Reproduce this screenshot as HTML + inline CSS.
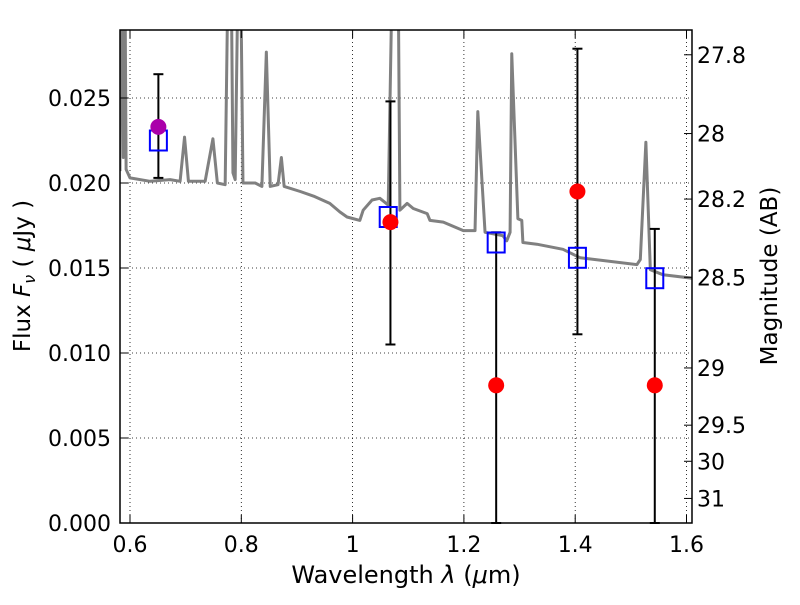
<!DOCTYPE html>
<html><head><meta charset="utf-8"><style>
body{margin:0;background:#fff;}
svg text{font-family:"DejaVu Sans","Liberation Sans",sans-serif;fill:#000;}
</style></head><body>
<svg id="chart" width="800" height="600" xmlns="http://www.w3.org/2000/svg">
<defs><clipPath id="clip"><rect x="120" y="30" width="572" height="493"/></clipPath></defs>
<rect x="0" y="0" width="800" height="600" fill="#fff"/>
<g id="grid"></g>
<g id="spec" clip-path="url(#clip)"></g>
<g id="marks"></g>
<rect x="120" y="30" width="572" height="493" fill="none" stroke="#000" stroke-width="1.5"/>
<g id="axes"></g>
<text x="406" y="583" font-size="24" text-anchor="middle">Wavelength  <tspan font-style="italic">λ</tspan> (<tspan font-style="italic">μ</tspan>m)</text>
<text transform="translate(30,276) rotate(-90)" font-size="23" text-anchor="middle">Flux  <tspan font-style="italic">F</tspan><tspan font-style="italic" font-size="16" dy="5">ν</tspan><tspan dy="-5">  ( </tspan><tspan font-style="italic">μ</tspan>Jy )</text>
<text transform="translate(777,276) rotate(-90)" font-size="23" text-anchor="middle">Magnitude (AB)</text>
</svg>
<script>
const specLam=[0.582,0.583,0.586,0.588,0.589,0.591,0.593,0.600,0.636,0.672,0.690,0.698,0.705,0.735,0.749,0.757,0.771,0.776,0.782,0.785,0.789,0.794,0.799,0.803,0.825,0.837,0.845,0.852,0.866,0.872,0.877,0.906,0.932,0.959,0.977,0.990,1.013,1.019,1.035,1.049,1.064,1.071,1.082,1.085,1.098,1.109,1.134,1.139,1.163,1.199,1.220,1.225,1.238,1.270,1.277,1.283,1.286,1.297,1.304,1.306,1.331,1.378,1.409,1.511,1.517,1.527,1.535,1.558,1.610];
const specFlux=[0.0207,0.032,0.032,0.0215,0.032,0.032,0.0208,0.0203,0.0201,0.0202,0.0201,0.0227,0.0201,0.0201,0.0226,0.0200,0.0199,0.032,0.032,0.0206,0.0202,0.032,0.032,0.0200,0.0200,0.0198,0.0277,0.0198,0.0199,0.0215,0.0198,0.0195,0.0192,0.0188,0.0183,0.0180,0.0178,0.0184,0.0190,0.0191,0.0187,0.032,0.032,0.0184,0.0188,0.0185,0.0182,0.0178,0.0177,0.0172,0.0172,0.0242,0.0171,0.0169,0.0166,0.0171,0.0276,0.0179,0.0178,0.0165,0.0164,0.0161,0.0156,0.0152,0.0155,0.0224,0.0149,0.0146,0.0144];
const modelLam=[0.651,1.064,1.258,1.404,1.543];
const modelFlux=[0.0225,0.0180,0.0165,0.0156,0.0144];
const obsLam=[1.068,1.258,1.404,1.543];
const obsFlux=[0.0177,0.0081,0.0195,0.0081];
const errLam=[0.651,1.068,1.258,1.404,1.543];
const errLo=[0.0203,0.0105,0.0,0.0111,0.0];
const errHi=[0.0264,0.0248,0.0171,0.0279,0.0173];
const hstLam=[0.651];
const hstFlux=[0.0233];
const xTicks=[0.6,0.8,1.0,1.2,1.4,1.6];
const xTickLabels=["0.6","0.8","1","1.2","1.4","1.6"];
const yTicks=[0,0.005,0.010,0.015,0.020,0.025];
const yTickLabels=["0.000","0.005","0.010","0.015","0.020","0.025"];
const magTicks=[27.8,28,28.2,28.5,29,29.5,30,31];
const magTickLabels=["27.8","28","28.2","28.5","29","29.5","30","31"];

const X=l=>352.6+(l-1)*556.5;
const Y=f=>523-f*17000;
const NS="http://www.w3.org/2000/svg";
function mk(tag,parent,attrs){const e=document.createElementNS(NS,tag);for(const k in attrs)e.setAttribute(k,attrs[k]);parent.appendChild(e);return e;}
const grid=document.getElementById('grid'),spec=document.getElementById('spec'),marks=document.getElementById('marks'),axes=document.getElementById('axes');

xTicks.forEach((t,i)=>{
 const x=X(t);
 const g=mk('line',grid,{x1:x,x2:x,y1:30,y2:523,stroke:'#000','stroke-width':0.8,'stroke-dasharray':'1,3'});
 
 
 const tk=mk('line',axes,{x1:x,x2:x,y1:523,y2:515,stroke:'#000','stroke-width':1});
 
 
 const tk2=mk('line',axes,{x1:x,x2:x,y1:30,y2:38,stroke:'#000','stroke-width':1});
 
 
 const lb=mk('text',axes,{x:x,y:552,'font-size':22,'text-anchor':'middle'});
 lb.textContent=xTickLabels[i];
 
 
});
yTicks.forEach((t,i)=>{
 const y=Y(t);
 const g=mk('line',grid,{x1:120,x2:692,y1:y,y2:y,stroke:'#000','stroke-width':0.8,'stroke-dasharray':'1,3'});
 
 
 const tk=mk('line',axes,{x1:120,x2:128,y1:y,y2:y,stroke:'#000','stroke-width':1});
 
 
 const lb=mk('text',axes,{x:111,y:y+8,'font-size':22,'text-anchor':'end'});
 lb.textContent=yTickLabels[i];
 
 
});
magTicks.forEach((m,i)=>{
 const f=Math.pow(10,(23.9-m)/2.5);
 const y=Y(f);
 const tk=mk('line',axes,{x1:684,x2:692,y1:y,y2:y,stroke:'#000','stroke-width':1});
 
 
 const lb=mk('text',axes,{x:697,y:y+8,'font-size':22,'text-anchor':'start'});
 lb.textContent=magTickLabels[i];
 
 
});

const pl=mk('polyline',spec,{points:specLam.map((l,i)=>X(l)+','+Y(specFlux[i])).join(' '),fill:'none',stroke:'#808080','stroke-width':3,'stroke-linejoin':'round'});



errLam.forEach((l,i)=>{
 const x=X(l),y1=Y(errLo[i]),y2=Y(errHi[i]);
 const g=mk('g',marks,{});
 
 
 mk('line',g,{x1:x,x2:x,y1:y1,y2:y2,stroke:'#000','stroke-width':2});
 mk('line',g,{x1:x-5,x2:x+5,y1:y2,y2:y2,stroke:'#000','stroke-width':2});
 mk('line',g,{x1:x-5,x2:x+5,y1:y1,y2:y1,stroke:'#000','stroke-width':2});
});
modelLam.forEach((l,i)=>{
 const s=mk('rect',marks,{x:X(l)-8.5,y:Y(modelFlux[i])-10,width:17,height:20,fill:'none',stroke:'#0000ff','stroke-width':2});
 
 
});
obsLam.forEach((l,i)=>{
 const c=mk('circle',marks,{cx:X(l),cy:Y(obsFlux[i]),r:8,fill:'#ff0000'});
 
 
});
hstLam.forEach((l,i)=>{
 const c=mk('circle',marks,{cx:X(l),cy:Y(hstFlux[i]),r:8,fill:'#aa00aa'});
 
 
});
</script>
</body></html>
